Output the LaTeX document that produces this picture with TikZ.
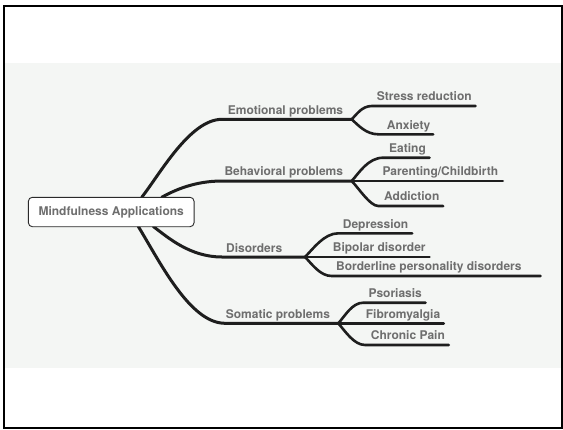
\documentclass[tikz,border=0pt]{standalone}
\usepackage{fontspec}
\setmainfont{TeX Gyre Heros}
\definecolor{txtgray}{HTML}{6E6E6E}
\definecolor{linedark}{HTML}{1E1E1E}
\definecolor{bandfill}{HTML}{F4F6F4}
\definecolor{boxline}{HTML}{2A2A2A}
\begin{document}
\begin{tikzpicture}[x=1pt,y=-1pt,
  lbl/.style={anchor=base west, inner sep=0pt, font=\bfseries\fontsize{12}{14}\selectfont, text=txtgray},
  trunk/.style={draw=linedark, line width=3pt, line cap=round},
  twig/.style={draw=linedark, line width=2.6pt, line cap=round},
  rootbox/.style={draw=boxline, fill=white, rounded corners=4pt, line width=0.9pt,
    minimum width=165.7pt, minimum height=29.4pt, inner sep=0pt,
    font=\bfseries\fontsize{12}{14}\selectfont, text=txtgray}
]
\useasboundingbox (0,0) rectangle (563,429);
\fill[white] (0,0) rectangle (563,429);
\fill[bandfill] (5,62.7) rectangle (561,368.3);
\draw[line width=2pt] (4.3,6) rectangle (561.5,427.7);

% attachment points on the central box
\coordinate (emo-root) at (141.7,197.3);
\coordinate (beh-root) at (161.7,197.3);
\coordinate (dis-root) at (153.3,226.5);
\coordinate (som-root) at (138.3,226.5);

% bends and forks of the four main branches
\coordinate (emo-bend) at (222,119.3);
\coordinate (emo-fork) at (351.7,119.3);
\coordinate (beh-bend) at (222,181);
\coordinate (beh-fork) at (351.7,181);
\coordinate (dis-bend) at (222,257);
\coordinate (dis-fork) at (305,257);
\coordinate (som-bend) at (225,323.3);
\coordinate (som-fork) at (338.3,323.3);

% leaf bends and ends
\coordinate (str-bend) at (372,106);     \coordinate (str-end) at (475.5,106);
\coordinate (anx-bend) at (378.3,134.3); \coordinate (anx-end) at (433.2,134.3);
\coordinate (eat-bend) at (383.3,157.7); \coordinate (eat-end) at (429.5,157.7);
\coordinate (par-end) at (502.8,181);
\coordinate (add-bend) at (378.3,206);   \coordinate (add-end) at (443.2,206);
\coordinate (dep-bend) at (338.3,233.3); \coordinate (dep-end) at (412.2,233.3);
\coordinate (bip-end) at (429.5,257);
\coordinate (bor-bend) at (331.7,276);   \coordinate (bor-end) at (540.5,276);
\coordinate (pso-bend) at (363.3,302.7); \coordinate (pso-end) at (425.5,302.7);
\coordinate (fib-end) at (443.8,323.3);
\coordinate (chr-bend) at (365,345);     \coordinate (chr-end) at (448.8,345);

% main branches
\draw[trunk] (emo-root) .. controls (160,174) and (190,119.3) .. (emo-bend) -- (emo-fork);
\draw[trunk] (beh-root) .. controls (174.8,190) and (195,181) .. (beh-bend) -- (beh-fork);
\draw[trunk] (dis-root) .. controls (168,237.5) and (190,257) .. (dis-bend) -- (dis-fork);
\draw[trunk] (som-root) .. controls (160,262) and (190,323.3) .. (som-bend) -- (som-fork);

% leaves
\draw[twig] (emo-fork) .. controls (357,114) and (362,106) .. (str-bend) -- (str-end);
\draw[twig] (emo-fork) .. controls (358,125) and (366,134.3) .. (anx-bend) -- (anx-end);
\draw[twig] (beh-fork) .. controls (359,173) and (368,157.7) .. (eat-bend) -- (eat-end);
\draw[twig] (beh-fork) -- (par-end);
\draw[twig] (beh-fork) .. controls (359,188.5) and (370,206) .. (add-bend) -- (add-end);
\draw[twig] (dis-fork) .. controls (313,249) and (324,233.3) .. (dep-bend) -- (dep-end);
\draw[twig] (dis-fork) -- (bip-end);
\draw[twig] (dis-fork) .. controls (312,264) and (320,276) .. (bor-bend) -- (bor-end);
\draw[twig] (som-fork) .. controls (345,316) and (352,302.7) .. (pso-bend) -- (pso-end);
\draw[twig] (som-fork) -- (fib-end);
\draw[twig] (som-fork) .. controls (345,331) and (354,345) .. (chr-bend) -- (chr-end);

% central box
\node[rootbox] (root) at (111.2,212) {Mindfulness Applications};

% branch labels
\node[lbl] (emo) at (227.7,114.0) {Emotional problems};
\node[lbl] (beh) at (224.3,175.7) {Behavioral problems};
\node[lbl] (dis) at (226,252.0) {Disorders};
\node[lbl] (som) at (225.7,318.0) {Somatic problems};

% leaf labels
\node[lbl] (str) at (376.7,100.7) {Stress reduction};
\node[lbl] (anx) at (386.7,129.0) {Anxiety};
\node[lbl] (eat) at (389,152.4) {Eating};
\node[lbl] (par) at (382.3,175.7) {Parenting/Childbirth};
\node[lbl] (add) at (384,200.7) {Addiction};
\node[lbl] (dep) at (342.7,228.0) {Depression};
\node[lbl] (bip) at (332.7,251.4) {Bipolar disorder};
\node[lbl] (bor) at (336,270.7) {Borderline personality disorders};
\node[lbl] (pso) at (368.3,297.4) {Psoriasis};
\node[lbl] (fib) at (365.7,318.0) {Fibromyalgia};
\node[lbl] (chr) at (370.7,339.7) {Chronic Pain};
\end{tikzpicture}
\end{document}
